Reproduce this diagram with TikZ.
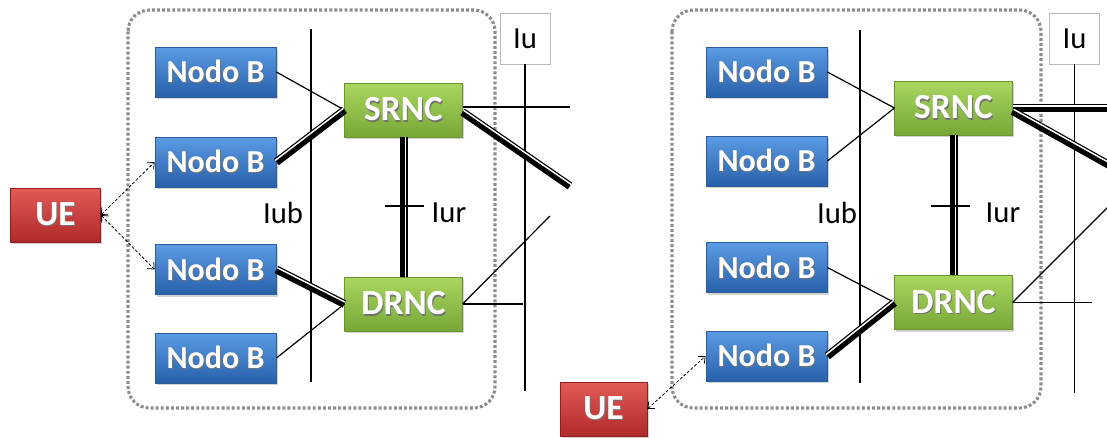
\documentclass[tikz,border=0pt]{standalone}
\usepackage{fontspec}
\setmainfont{Carlito}
\usetikzlibrary{calc,arrows.meta,shadows}

\definecolor{bluetop}{HTML}{5A9CE4}
\definecolor{bluebot}{HTML}{2860AA}
\definecolor{blueedge}{HTML}{2B5C9C}
\definecolor{greentop}{HTML}{AAD660}
\definecolor{greenbot}{HTML}{78A737}
\definecolor{greenedge}{HTML}{6A9530}
\definecolor{redtop}{HTML}{E25A55}
\definecolor{redbot}{HTML}{B02A2A}
\definecolor{rededge}{HTML}{8F2020}
\definecolor{dotgray}{HTML}{8C8C8C}

% thick-thin compound link: thick stroke with a thin stroke on its left side
\newcommand\dlink[2]{%
  \draw[line width=6pt] (#1) -- (#2);
  \draw[white,line width=1.1pt] ($(#1)!1.5pt!90:(#2)$) -- ($(#2)!1.5pt!-90:(#1)$);
}
% white caption with a soft dark shadow behind it
\newcommand\shadowtext[1]{%
  \makebox[0pt][l]{\hspace{0.7pt}\raisebox{-0.8pt}{\textcolor{black!55}{#1}}}#1}

\begin{document}
\begin{tikzpicture}[x=0.75pt,y=-0.75pt,
  box/.style={rectangle, line width=0.6pt, text=white, inner sep=0pt,
    drop shadow={opacity=0.35,shadow xshift=1.2pt,shadow yshift=-1.5pt}},
  nodeb/.style={box, top color=bluetop, bottom color=bluebot, draw=blueedge,
    minimum width=90.75pt, minimum height=37.5pt,
    font=\bfseries\fontsize{24}{27}\selectfont},
  rnc/.style={box, top color=greentop, bottom color=greenbot, draw=greenedge,
    minimum width=88pt, minimum height=40.5pt,
    font=\bfseries\fontsize{26.5}{29}\selectfont},
  uebox/.style={box, top color=redtop, bottom color=redbot, draw=rededge,
    minimum height=40.5pt, font=\bfseries\fontsize{26.5}{29}\selectfont},
  lbl/.style={inner sep=0pt, font=\fontsize{23}{26}\selectfont},
  iubox/.style={draw=gray!55, fill=white, line width=0.6pt, inner sep=0pt,
    minimum width=37.5pt, minimum height=38.25pt, font=\fontsize{23}{26}\selectfont},
  rncarea/.style={draw=dotgray, line width=2.3pt, rounded corners=16pt,
    dash pattern=on 2.2pt off 1.6pt},
  wire/.style={line width=0.9pt},
  bar/.style={line width=1pt},
  radio/.style={line width=0.6pt, dash pattern=on 2.2pt off 1.4pt,
    arrows={Straight Barb[length=4pt,width=7pt]-Straight Barb[length=4pt,width=7pt]}}
]
\useasboundingbox (0,0) rectangle (1107,437);

% ---------------- left network ----------------
\draw[rncarea] (128,10) rectangle (495,408);

\node[nodeb] (lnb1) at (215.5,72)  {\shadowtext{Nodo B}};
\node[nodeb] (lnb2) at (215.5,162) {\shadowtext{Nodo B}};
\node[nodeb] (lnb3) at (215.5,269.5) {\shadowtext{Nodo B}};
\node[nodeb] (lnb4) at (215.5,358) {\shadowtext{Nodo B}};
\node[rnc] (lsrnc) at (403.5,110) {\shadowtext{SRNC}};
\node[rnc] (ldrnc) at (403.5,304) {\shadowtext{DRNC}};
\node[uebox, minimum width=67.5pt] (lue) at (55.5,215) {\shadowtext{UE}};

% interface bars
\coordinate (liubtop) at (311,29);
\coordinate (liubbot) at (311,382);
\draw[bar] (liubtop) -- (liubbot);
\node[lbl] (liublbl) at (283,213) {Iub};
\node[iubox] (liu) at (525,38.5) {Iu};
\coordinate (liubar) at (525,391);
\draw[bar] (liu.south) -- (liubar);
\coordinate (liurl) at (385,206);
\coordinate (liurr) at (424,206);
\node[lbl] (liurlbl) at (449,213) {Iur};

% links
\draw[wire] (lnb1.east) -- (lsrnc.west);
\dlink{lnb2.east}{lsrnc.west}
\dlink{lnb3.east}{ldrnc.west}
\draw[wire] (lnb4.east) -- (ldrnc.west);
\dlink{lsrnc.south}{ldrnc.north}
\draw[bar] (liurl) -- (liurr);

\coordinate (lcn1) at (570,107);
\coordinate (lcn2) at (570,186);
\draw[wire] ($(lsrnc.east)+(0,-3)$) -- (lcn1);
\dlink{$(lsrnc.east)+(0,2)$}{lcn2}
\coordinate (lcn3) at (523,304);
\coordinate (lcn4) at (550,216);
\draw[wire] (ldrnc.east) -- (lcn3);
\draw[wire] (ldrnc.east) -- (lcn4);

\draw[radio] (lue.east) -- (lnb2.west);
\draw[radio] (lue.east) -- (lnb3.west);

% ---------------- right network ----------------
\draw[rncarea] (672,10) rectangle (1041,408);

\node[nodeb] (rnb1) at (766.5,72)  {\shadowtext{Nodo B}};
\node[nodeb] (rnb2) at (766.5,161) {\shadowtext{Nodo B}};
\node[nodeb] (rnb3) at (766.5,267.5) {\shadowtext{Nodo B}};
\node[nodeb] (rnb4) at (766.5,356) {\shadowtext{Nodo B}};
\node[rnc] (rsrnc) at (953.5,108) {\shadowtext{SRNC}};
\node[rnc] (rdrnc) at (953.5,302.5) {\shadowtext{DRNC}};
\node[uebox, minimum width=65.25pt] (rue) at (603.5,409) {\shadowtext{UE}};

\coordinate (riubtop) at (860,30);
\coordinate (riubbot) at (860,383);
\draw[bar] (riubtop) -- (riubbot);
\node[lbl] (riublbl) at (837,213) {Iub};
\node[iubox] (riu) at (1074.5,38.5) {Iu};
\coordinate (riubar) at (1074.5,393);
\draw[bar] (riu.south) -- (riubar);
\coordinate (riurl) at (931,206);
\coordinate (riurr) at (970,206);
\node[lbl] (riurlbl) at (1003,213) {Iur};

\draw[wire] (rnb1.east) -- (rsrnc.west);
\draw[wire] (rnb2.east) -- (rsrnc.west);
\draw[wire] (rnb3.east) -- (rdrnc.west);
\dlink{rnb4.east}{rdrnc.west}
\dlink{rsrnc.south}{rdrnc.north}
\draw[bar] (riurl) -- (riurr);

\coordinate (rcn1) at (1120,108);
\coordinate (rcn2) at (1120,171);
\dlink{rsrnc.east}{rcn1}
\dlink{$(rsrnc.east)+(0,3)$}{rcn2}
\coordinate (rcn3) at (1092,302.5);
\coordinate (rcn4) at (1120,195);
\draw[wire] (rdrnc.east) -- (rcn3);
\draw[wire] (rdrnc.east) -- (rcn4);

\draw[radio] (rue.east) -- (rnb4.west);
\end{tikzpicture}
\end{document}
